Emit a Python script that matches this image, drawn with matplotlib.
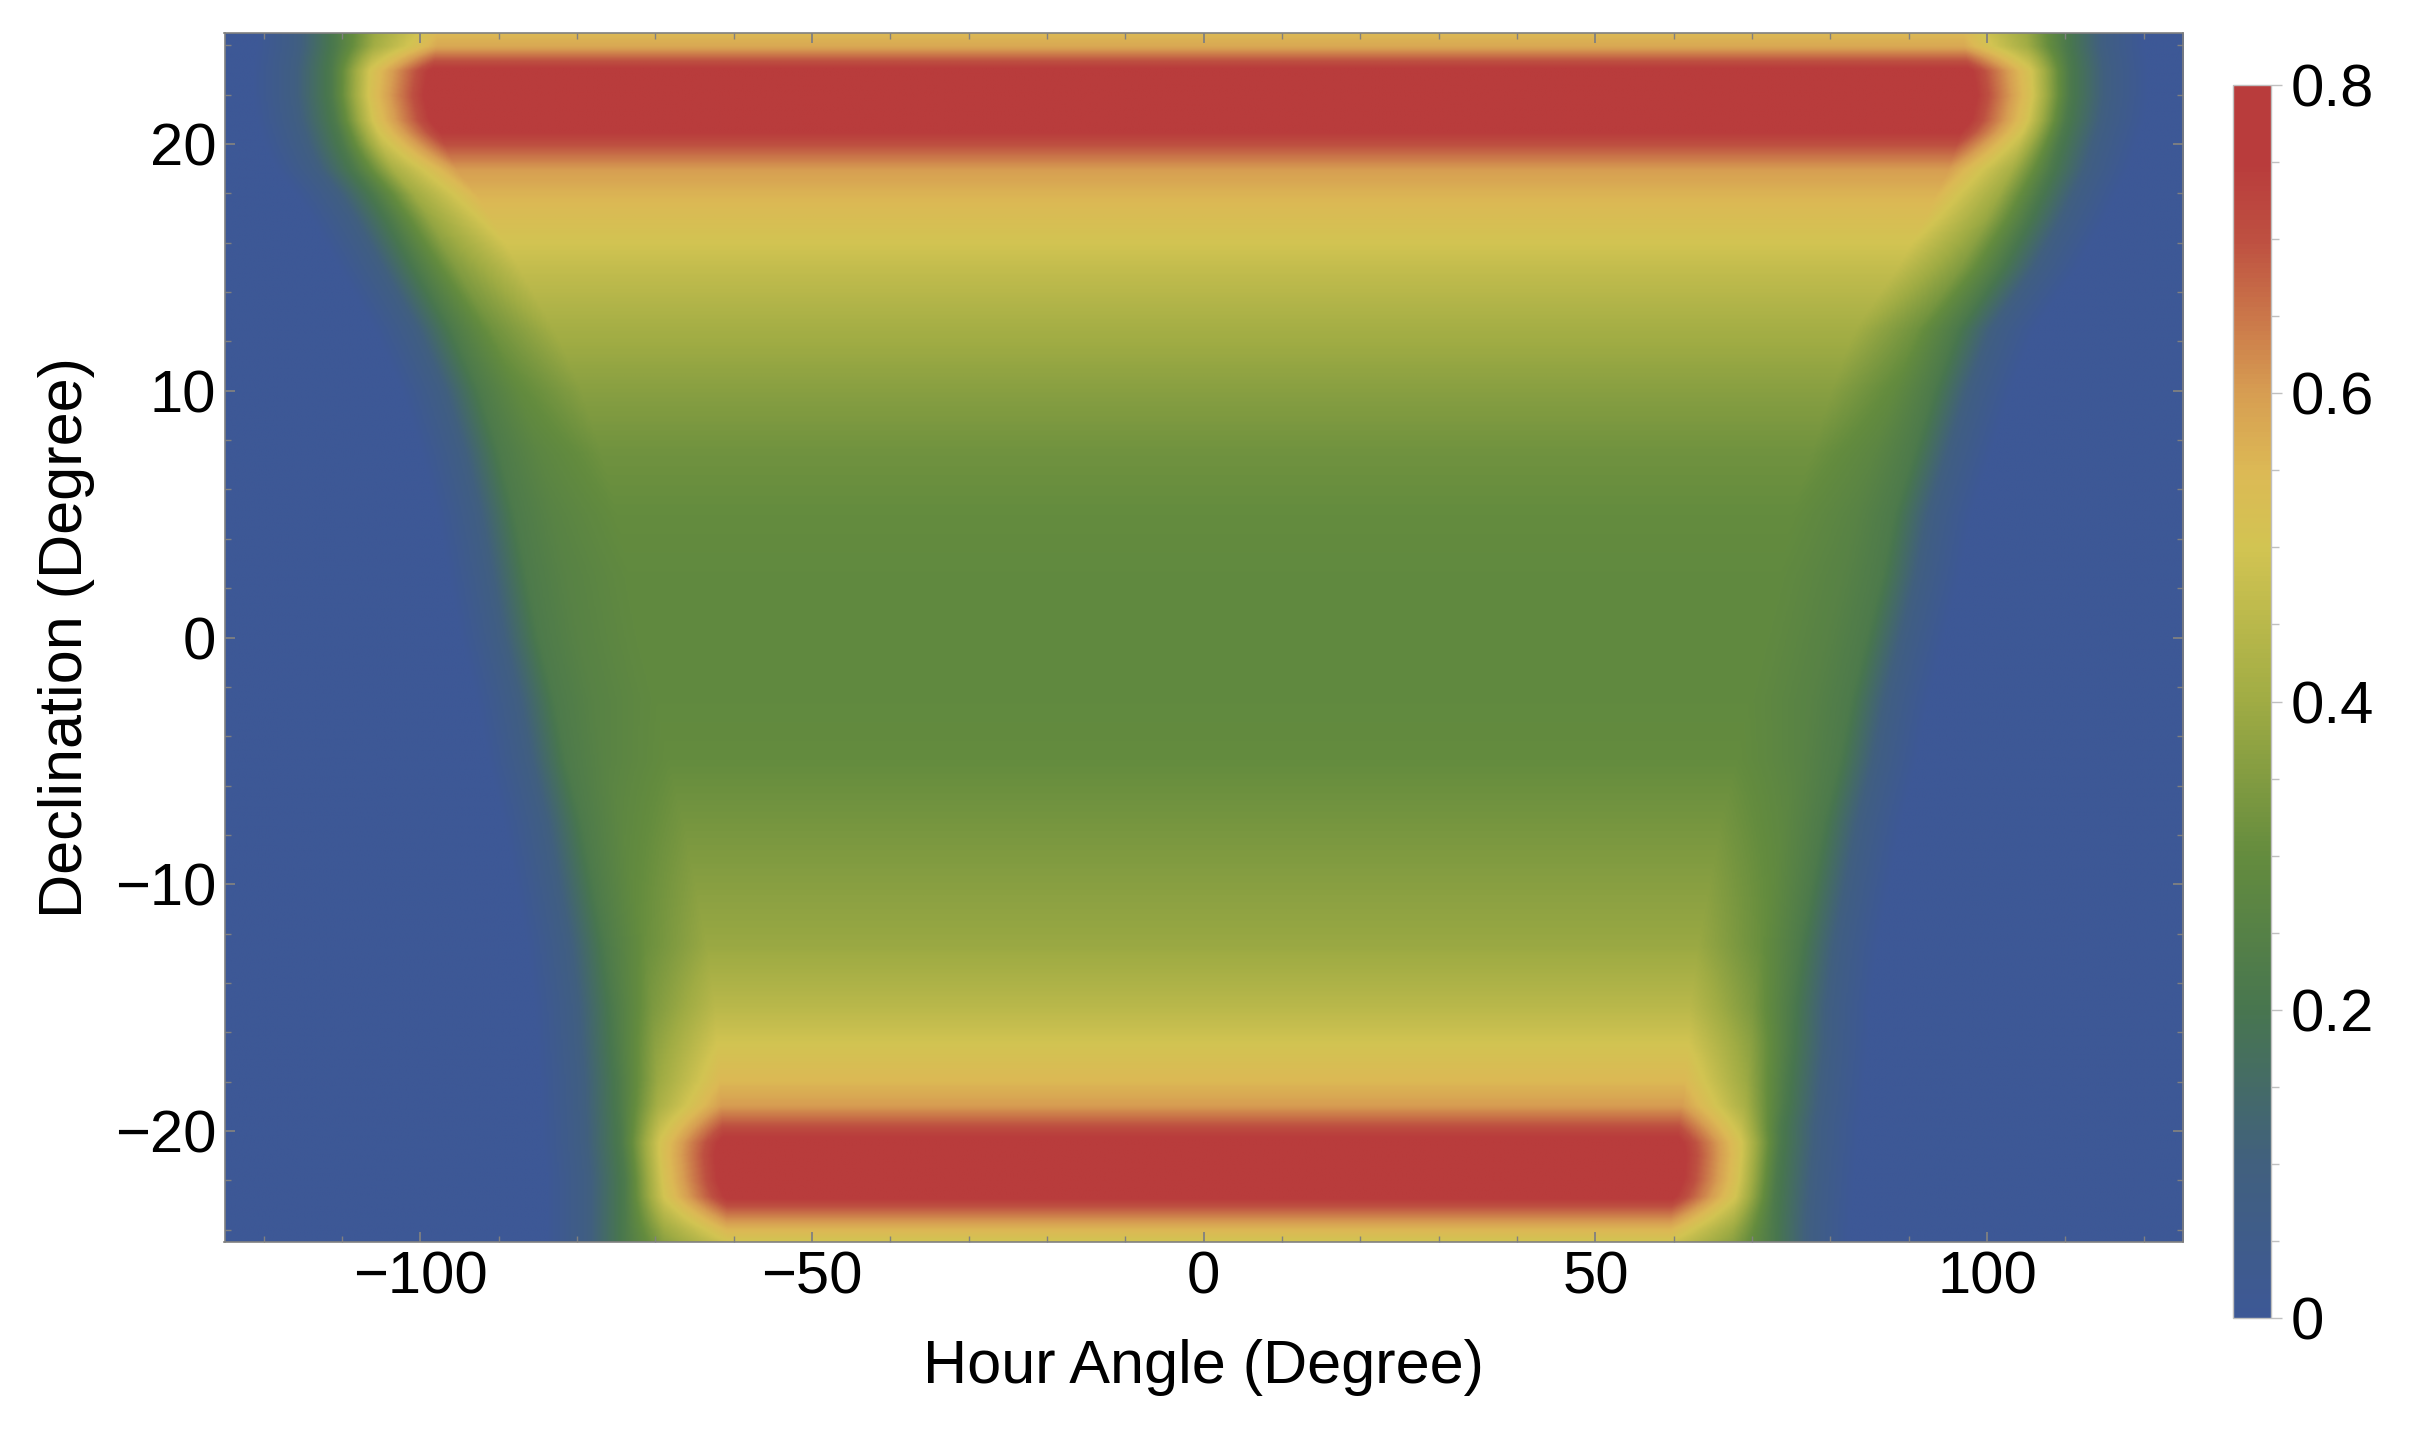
import numpy as np
import matplotlib
matplotlib.use('Agg')
import matplotlib.pyplot as plt
from matplotlib.colors import LinearSegmentedColormap
from matplotlib.ticker import MultipleLocator, FixedLocator

plt.rcParams['font.family'] = ['Liberation Sans', 'DejaVu Sans']

# rows of the density map (declination, degree)
dec_rows = [-24.5, -24, -23.4, -22.7, -22, -21, -20.5, -20, -19.5, -19, -18,
            -16.5, -15, -12.5, -10, -7.5, -5, -2.5, 0, 2.5, 5, 7.5, 10, 12.5,
            15, 17, 18, 19, 19.5, 20, 20.5, 21, 22, 23, 23.5, 24, 24.5]
# value in the middle of each row
plateau = [0.50, 0.56, 0.65, 0.76, 0.79, 0.79, 0.77, 0.72, 0.66, 0.60, 0.55,
           0.50, 0.45, 0.39, 0.36, 0.33, 0.30, 0.29, 0.29, 0.29, 0.30, 0.32, 0.36, 0.41,
           0.47, 0.53, 0.56, 0.60, 0.65, 0.70, 0.75, 0.78, 0.79, 0.77, 0.68, 0.58, 0.55]
# hour angle of the dark green rim, left and right side
edge_left = [-74, -74, -74, -74, -74, -74.3, -74.5, -74.5, -74.6, -74.7, -74.8,
             -75.2, -75.5, -76.5, -78, -79.5, -81.5, -83, -85, -86.5, -88, -90, -92.5, -96,
             -100.5, -104, -106, -108.5, -109.3, -110, -110.5, -111, -111.5, -111.5, -111.3, -111, -111]
edge_right = [72.5, 72.5, 72.6, 72.8, 73, 73.3, 73.5, 73.5, 73.7, 74, 74.3,
              74.8, 75, 76, 77.5, 79, 81, 82.5, 84.5, 86.5, 88, 90.5, 93, 96,
              101.5, 105, 106.5, 108, 108.5, 109, 109.5, 110, 110.5, 110.5, 110.3, 110, 110]
# shape of the fall-off across the rim (degree from rim, value)
rim_out_offset = [10, 5, 0]
rim_out_value = [0.0, 0.08, 0.22]
rim_in_offset = [5, 13]
rim_in_frac = [0.52, 1.0]

cbar_ticks = [0, 0.2, 0.4, 0.6, 0.8]
cbar_labels = ['0', '0.2', '0.4', '0.6', '0.8']

# colour scale like the one in the reference
cmap_nodes = [(0.0, '#3d5896'), (0.1, '#41607e'), (0.2, '#48764f'), (0.3, '#648c3e'),
              (0.4, '#a0ac44'), (0.5, '#d2c452'), (0.55, '#dcb955'), (0.6, '#d79e52'),
              (0.7, '#be5041'), (0.75, '#b93c3c'), (0.8, '#b93c3c')]
cmap = LinearSegmentedColormap.from_list('dark_rainbow',
                                         [(v / 0.8, c) for v, c in cmap_nodes])

# knots of every row: positions follow the rims
X, Z = [], []
for p, L, R in zip(plateau, edge_left, edge_right):
    xs = [-125] + [L - o for o in rim_out_offset] + [L + o for o in rim_in_offset]
    xs += [R - o for o in rim_in_offset[::-1]] + [R + o for o in rim_out_offset[::-1]] + [125]
    inner = [0.22 + f * (p - 0.22) for f in rim_in_frac]
    zs = [0.0] + rim_out_value + inner + inner[::-1] + rim_out_value[::-1] + [0.0]
    X.append(xs)
    Z.append(zs)
X, Z = np.array(X), np.array(Z)

# resample on a fine grid, moving the knots between rows
dec_fine = np.linspace(-24.5, 24.5, 700)
ha_fine = np.linspace(-125, 125, 1400)
Xf = np.array([np.interp(dec_fine, dec_rows, X[:, j]) for j in range(X.shape[1])]).T
Zf = np.array([np.interp(dec_fine, dec_rows, Z[:, j]) for j in range(Z.shape[1])]).T
field = np.array([np.interp(ha_fine, Xf[i], Zf[i]) for i in range(len(dec_fine))])

W, H = 2428, 1429
fig = plt.figure(figsize=(W / 100, H / 100), dpi=100)
ax = fig.add_axes([224.5 / W, 1 - 1242 / H, (2183 - 224.5) / W, (1242 - 33) / H])
im = ax.imshow(field, extent=[-125, 125, -24.5, 24.5], origin='lower', aspect='auto',
               cmap=cmap, vmin=0, vmax=0.8, interpolation='bilinear')
ax.set_xlim(-125, 125)
ax.set_ylim(-24.5, 24.5)

ax.xaxis.set_major_locator(MultipleLocator(50))
ax.xaxis.set_minor_locator(MultipleLocator(10))
ax.yaxis.set_major_locator(MultipleLocator(10))
ax.yaxis.set_minor_locator(MultipleLocator(2))
ax.tick_params(which='both', direction='in', top=True, right=True,
               color='#808080', labelsize=43, pad=6)
ax.tick_params(which='major', length=7.5, width=1.3)
ax.tick_params(which='minor', length=4.5, width=1.0)
for s in ax.spines.values():
    s.set_color('#808080')
    s.set_linewidth(1.2)
ax.set_xlabel('Hour Angle (Degree)', fontsize=44, labelpad=24)
ax.set_ylabel('Declination (Degree)', fontsize=44, labelpad=14)

cax = fig.add_axes([2233 / W, 1 - 1318 / H, 38 / W, (1318 - 85) / H])
cb = fig.colorbar(im, cax=cax)
cb.set_ticks(cbar_ticks)
cb.set_ticklabels(cbar_labels)
cax.yaxis.set_minor_locator(FixedLocator(np.arange(0, 0.81, 0.05)))
cax.tick_params(which='both', color='#c0c0c0', labelsize=43, pad=6)
cax.tick_params(which='major', length=8, width=1.0)
cax.tick_params(which='minor', length=6, width=1.0)
cb.outline.set_edgecolor('#c0c0c0')
cb.outline.set_linewidth(1.0)

fig.savefig('out.png', dpi=100)
